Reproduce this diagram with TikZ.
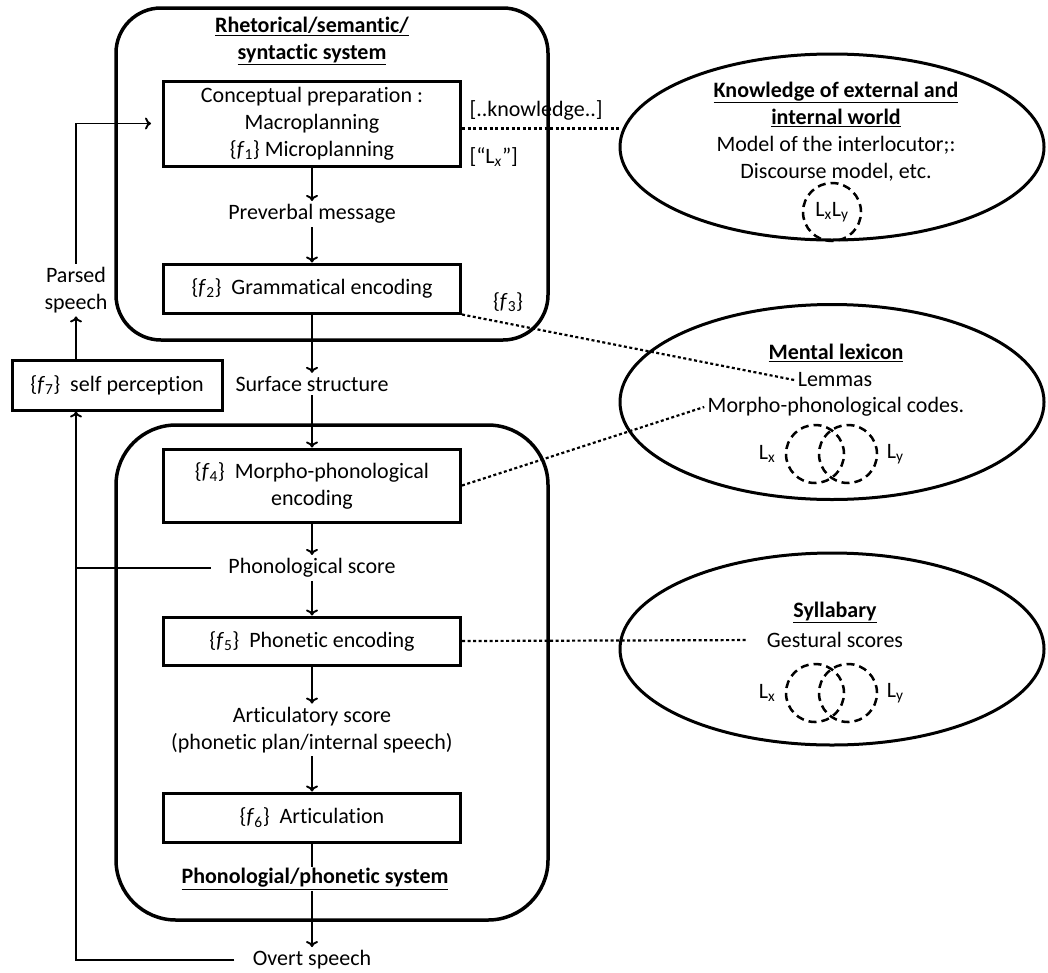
\documentclass[tikz,border=0pt]{standalone}
\usepackage{fontspec}
\setmainfont{Carlito}[Ligatures={NoCommon,NoRare,NoContextual},Contextuals=NoAlternate]
\usepackage{tikz}
\usetikzlibrary{arrows,arrows.meta,positioning,shapes.geometric}

\newcommand{\fsub}[1]{\{\textit{f}\textsubscript{#1}\}}
\newcommand{\headfont}{\fontsize{22}{27}\selectfont\bfseries}

\begin{document}
\begin{tikzpicture}[x=1pt,y=-1pt,font=\fontsize{22}{27}\selectfont,
  >={To[length=6pt,width=12pt]},
  stage/.style={draw,line width=3pt,minimum width=297pt,minimum height=49pt,align=center,inner sep=2pt},
  flow/.style={->,line width=1.9pt},
  link/.style={line width=2.2pt,dash pattern=on 3pt off 2.5pt},
  store/.style={draw,ellipse,line width=3pt,minimum width=424pt,inner sep=0pt},
  lang/.style={draw,circle,line width=2.5pt,dash pattern=on 8pt off 5pt,minimum size=58pt,inner sep=0pt}]
\useasboundingbox (0,0) rectangle (1048,972);

% the two systems
\node[draw,line width=3.5pt,rounded corners=45pt,minimum width=432pt,minimum height=332pt] (rhet) at (332,174) {};
\node[draw,line width=3.5pt,rounded corners=60pt,minimum width=432pt,minimum height=495pt] (phsys) at (332,672.5) {};
\node[align=center,font=\headfont] (rhethead) at (312,41) {\underline{Rhetorical/semantic/}\\\underline{syntactic system}};

% main column
\node[stage,minimum height=85pt] (concept) at (312,123.5) {Conceptual preparation :\\Macroplanning\\\fsub{1} Microplanning};
\node (prev) at (312,214) {Preverbal message};
\node[stage] (gram) at (312,288.5) {\fsub{2}~ Grammatical encoding};
\node (surf) at (312,384) {Surface structure};
\node[stage,minimum height=73pt] (morph) at (312,485.5) {\fsub{4}~ Morpho-phonological\\encoding};
\node (phsc) at (312,568) {Phonological score};
\node[stage,minimum height=48pt] (phon) at (312,641) {\fsub{5}~ Phonetic encoding};
\node[align=center] (arsc) at (312,730) {Articulatory score\\(phonetic plan/internal speech)};
\node[stage] (artic) at (312,817.5) {\fsub{6}~ Articulation};
\node (overt) at (312,960) {Overt speech};

\draw[flow] (concept) -- (prev);
\draw[flow] (prev) -- (gram);
\draw[flow] (gram) -- (surf);
\draw[flow] (surf) -- (morph);
\draw[flow] (morph) -- (phsc);
\draw[flow] (phsc) -- (phon);
\draw[flow] (phon) -- (arsc);
\draw[flow] (arsc) -- (artic);
\draw[flow] (artic) -- (overt);
\node[font=\headfont,fill=white,inner sep=1pt] (phhead) at (315,879) {\underline{Phonologial/phonetic system}};

% self monitoring loop
\node[draw,line width=3pt,minimum width=210pt,minimum height=50pt] (selfp) at (117,385) {\fsub{7}~ self perception};
\node[align=center] (parsed) at (76,290) {Parsed\\speech};
\draw[flow] (parsed |- selfp.north) -- (parsed);
\draw[flow] (parsed) |- ([xshift=-11pt]concept.west);
\draw[flow] ([xshift=-15pt]overt.west) -| (selfp.south -| parsed);
\draw[line width=1.9pt] ([xshift=-14pt]phsc.west) -- (phsc.west -| parsed);

% knowledge stores
\node[store,minimum height=186pt] (know) at (832,147) {};
\node[align=center,font=\headfont] (knowhead) at (836,104) {\underline{Knowledge of external and}\\\underline{internal world}};
\node[align=center] (knowtxt) at (836,158.5) {Model of the interlocutor;:\\Discourse model, etc.};
\node[lang] (knowlang) at (832,212) {L\textsubscript{x}L\textsubscript{y}};

\node[store,minimum height=195pt] (lex) at (832,402) {};
\node[font=\headfont] (lexhead) at (836,353) {\underline{Mental lexicon}};
\node (lemmas) at (835,380) {Lemmas};
\node (codes) at (836,407) {Morpho-phonological codes.};
\node[lang] (lexx) at (815,454) {};
\node[lang] (lexy) at (848,454) {};
\node[left = 6pt of lexx] (lexlx) {L\textsubscript{x}};
\node[right = 5pt of lexy] (lexly) {L\textsubscript{y}};

\node[store,minimum height=192pt] (syll) at (832,649) {};
\node[font=\headfont] (syllhead) at (835,612) {\underline{Syllabary}};
\node (gest) at (835,640) {Gestural scores};
\node[lang] (syllx) at (815,693) {};
\node[lang] (sylly) at (848,693) {};
\node[left = 6pt of syllx] (sylllx) {L\textsubscript{x}};
\node[right = 5pt of sylly] (syllly) {L\textsubscript{y}};

% links to the stores
\node[anchor=west] (knowtag) at (466,110) {[..knowledge..]};
\node[anchor=west] (lxtag) at (466,157) {[“L\textsubscript{\textit{x}}”]};
\node (fthree) at (508,302) {\fsub{3}};
\coordinate (kn) at ([yshift=-5pt]concept.east);
\draw[link] (kn) -- (kn -| know.west);
\draw[link] (gram.south east) -- (lemmas.west);
\draw[link] (morph.east) -- (codes.west);
\draw[link,shorten >=17pt] (phon.east) -- (gest.west);
\end{tikzpicture}
\end{document}
